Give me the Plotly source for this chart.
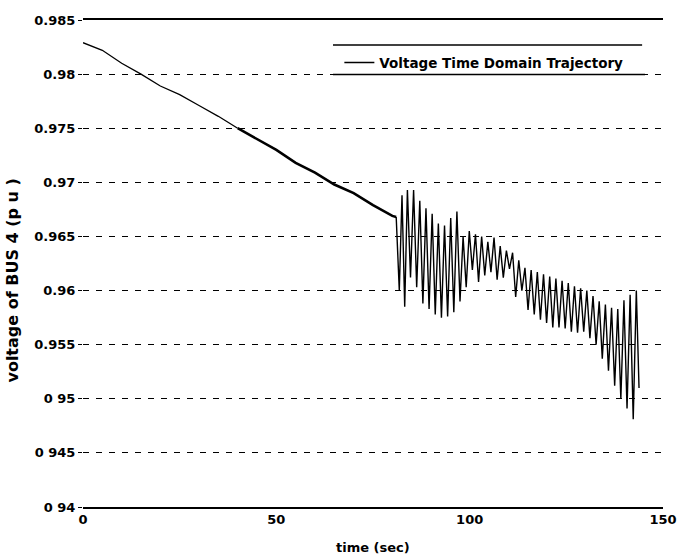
import plotly.graph_objects as go

# smooth (pre-oscillation) part of the trajectory
t_smooth = [0, 5, 10, 15, 20, 25, 30, 35, 40, 45, 50, 55, 60, 65, 70, 75, 80, 81.0]
v_smooth = [0.9829, 0.9822, 0.9810, 0.9800, 0.9789, 0.9781, 0.9771, 0.9761, 0.9750,
            0.9740, 0.9730, 0.9718, 0.9709, 0.9698, 0.9690, 0.9679, 0.9669, 0.9668]

# oscillating part
t_osc = [81.0, 81.8, 82.5, 83.2, 83.9, 84.7, 85.5, 86.3, 87.1, 87.9, 88.7, 89.5, 90.3, 91.1,
         91.9, 92.7, 93.5, 94.3, 95.1, 95.9, 96.7, 97.5, 98.3, 99.1, 99.9, 100.7, 101.5,
         102.3, 103.1, 103.9, 104.7, 105.5, 106.3, 107.1, 107.9, 108.7, 109.5, 110.3, 111.1,
         111.9, 112.7, 113.5, 114.3, 115.1, 115.9, 116.7, 117.5, 118.3, 119.1, 119.9, 120.7,
         121.5, 122.3, 123.1, 123.9, 124.7, 125.5, 126.3, 127.1, 127.9, 128.7, 129.5, 130.3,
         131.1, 131.9, 132.7, 133.5, 134.3, 135.1, 135.9, 136.7, 137.5, 138.3, 139.1, 139.9,
         140.7, 141.5, 142.3, 143.1, 143.8]
v_osc = [0.9668, 0.9600, 0.9688, 0.9585, 0.9693, 0.9612, 0.9693, 0.9603, 0.9683, 0.9588,
         0.9676, 0.9583, 0.9671, 0.9578, 0.9662, 0.9575, 0.9660, 0.9576, 0.9667, 0.9580,
         0.9673, 0.9590, 0.9650, 0.9603, 0.9655, 0.9619, 0.9652, 0.9608, 0.9650, 0.9614,
         0.9645, 0.9617, 0.9649, 0.9610, 0.9641, 0.9612, 0.9637, 0.9620, 0.9635, 0.9594,
         0.9628, 0.9600, 0.9621, 0.9582, 0.9619, 0.9578, 0.9617, 0.9573, 0.9615, 0.9570,
         0.9613, 0.9566, 0.9611, 0.9566, 0.9609, 0.9565, 0.9607, 0.9562, 0.9604, 0.9561,
         0.9602, 0.9562, 0.9600, 0.9556, 0.9595, 0.9550, 0.9590, 0.9537, 0.9587, 0.9526,
         0.9584, 0.9512, 0.9583, 0.9500, 0.9591, 0.9491, 0.9596, 0.9481, 0.9600, 0.9510]

y_tickvals = [0.94, 0.945, 0.95, 0.955, 0.96, 0.965, 0.97, 0.975, 0.98, 0.985]
y_ticktext = ["0 94", "0 945", "0 95", "0.955", "0.96", "0.965", "0.97", "0.975", "0.98", "0.985"]
x_tickvals = [0, 50, 100, 150]
x_ticktext = ["0", "50", "100", "150"]

legend_name = "Voltage Time Domain Trajectory"
x_title = "time (sec)"
y_title = "voltage of BUS 4 (p u )"

FONT = "DejaVu Sans, Liberation Sans, Arial, sans-serif"

fig = go.Figure()
split = t_smooth.index(40)
fig.add_trace(go.Scatter(x=t_osc, y=v_osc, mode="lines", name=legend_name,
                         line=dict(color="black", width=1.4), showlegend=True))
fig.add_trace(go.Scatter(x=t_smooth[:split + 1], y=v_smooth[:split + 1], mode="lines",
                         line=dict(color="black", width=1.3), showlegend=False))
fig.add_trace(go.Scatter(x=t_smooth[split:], y=v_smooth[split:], mode="lines",
                         line=dict(color="black", width=2.6), showlegend=False))

fig.update_layout(
    width=680, height=560, autosize=False,
    margin=dict(l=83, r=17, t=20, b=53, autoexpand=False),
    paper_bgcolor="white", plot_bgcolor="white",
    font=dict(family=FONT, color="black", size=13),
    legend=dict(x=0.442, y=0.944, xanchor="left", yanchor="top",
                bgcolor="rgba(0,0,0,0)", borderwidth=0,
                font=dict(family=FONT, size=13.5, weight="bold"),
                itemwidth=30),
    xaxis=dict(range=[0, 150], tickvals=x_tickvals, ticktext=x_ticktext,
               showgrid=False, zeroline=False, showline=True, mirror=True,
               linecolor="black", linewidth=1.6, ticks="", automargin=False,
               tickfont=dict(family=FONT, size=13, weight="bold")),
    yaxis=dict(range=[0.94, 0.985], tickvals=y_tickvals, ticktext=y_ticktext,
               showgrid=True, gridcolor="black", gridwidth=1, griddash="6px,7px",
               zeroline=False, showline=False, ticks="outside", ticklen=4,
               tickcolor="black", tickwidth=1, automargin=False,
               tickfont=dict(family=FONT, size=13, weight="bold")),
    shapes=[
        dict(type="line", xref="paper", yref="paper", x0=0.431, x1=0.964,
             y0=0.9487, y1=0.9487, line=dict(color="black", width=1.5)),
        dict(type="line", xref="paper", yref="paper", x0=0.431, x1=0.969,
             y0=0.888, y1=0.888, line=dict(color="black", width=1.5)),
    ],
    annotations=[
        dict(text=x_title, xref="paper", yref="paper", x=0.5, y=-0.084,
             xanchor="center", yanchor="middle", showarrow=False,
             font=dict(family=FONT, size=13, weight="bold")),
        dict(text=y_title, xref="paper", yref="paper", x=-0.1207, y=0.465,
             xanchor="center", yanchor="middle", textangle=-90, showarrow=False,
             font=dict(family=FONT, size=16, weight="bold")),
    ],
)

fig.write_html("out.html")
